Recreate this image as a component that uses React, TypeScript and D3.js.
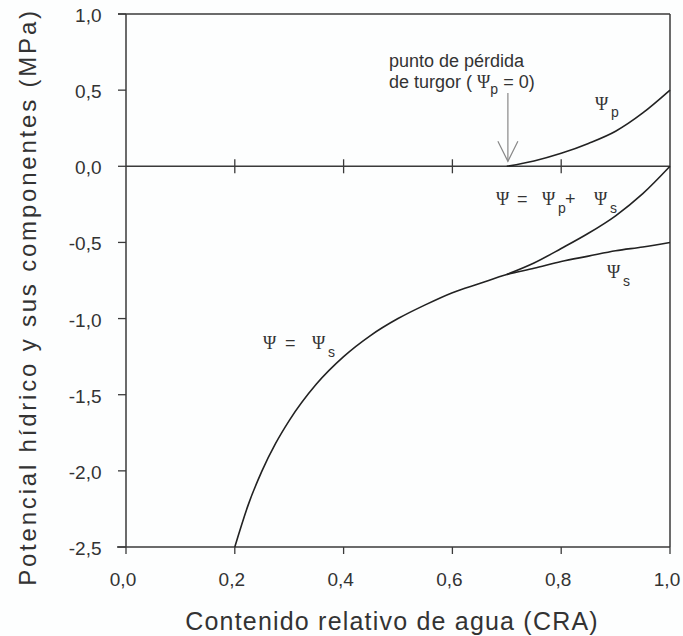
import React from "react";
import * as d3 from "d3";

const xTicks = [0, 0.2, 0.4, 0.6, 0.8, 1.0];
const yTicks = [1.0, 0.5, 0.0, -0.5, -1.0, -1.5, -2.0, -2.5];

// Osmotic potential (Ψs) vs relative water content
const psiSX = [0.2, 0.225, 0.25, 0.275, 0.3, 0.35, 0.4, 0.45, 0.5, 0.55, 0.6, 0.65, 0.7, 0.75, 0.8, 0.85, 0.9, 0.95, 1.0];
const psiSY = [-2.5, -2.22, -2.0, -1.82, -1.67, -1.43, -1.25, -1.11, -1.0, -0.91, -0.83, -0.77, -0.71, -0.67, -0.625, -0.59, -0.555, -0.53, -0.5];

// Turgor potential (Ψp)
const psiPX = [0.7, 0.75, 0.8, 0.85, 0.9, 0.95, 1.0];
const psiPY = [0, 0.035, 0.085, 0.15, 0.23, 0.35, 0.5];

// Total water potential Ψ = Ψp + Ψs above turgor loss point
const psiTX = [0.7, 0.75, 0.8, 0.85, 0.9, 0.95, 1.0];
const psiTY = [-0.71, -0.635, -0.54, -0.44, -0.325, -0.18, 0];

const turgorLossX = 0.702;

const fmt = (v: number) => d3.format(".1f")(v).replace(".", ",").replace("−", "-");

export default function App() {
  const W = 683, H = 636;
  const x = d3.scaleLinear().domain([0, 1]).range([126, 670]);
  const y = d3.scaleLinear().domain([-2.5, 1]).range([547, 14]);
  const line = d3
    .line<[number, number]>()
    .x((d) => x(d[0]))
    .y((d) => y(d[1]))
    .curve(d3.curveMonotoneX);
  const zip = (a: number[], b: number[]) => a.map((v, i) => [v, b[i]] as [number, number]);

  const axisColor = "#3a3a3a";
  const txt = "#333";
  const sans = "Liberation Sans, Arial, sans-serif";
  const serif = "Liberation Serif, Times New Roman, serif";
  const psiSize = 18;
  const subSize = 14;

  const ax = x(turgorLossX);
  const arrowTop = 93;
  const arrowTip = y(0) - 5;

  return (
    <svg width={W} height={H} style={{ position: "absolute", left: 0, top: 0 }} fontFamily={sans}>
      <rect width={W} height={H} fill="#fdfefe" />
      {/* frame */}
      <line x1={118} x2={x(1)} y1={y(1)} y2={y(1)} stroke={axisColor} strokeWidth={1.5} />
      <line x1={x(1)} x2={x(1)} y1={y(1)} y2={y(-2.5)} stroke={axisColor} strokeWidth={1.5} />
      <line x1={x(0)} x2={x(0)} y1={y(1)} y2={y(-2.5)} stroke={axisColor} strokeWidth={1.5} />
      <line x1={117} x2={x(1)} y1={y(-2.5)} y2={y(-2.5)} stroke={axisColor} strokeWidth={1.5} />
      {/* zero line */}
      <line x1={x(0)} x2={x(1)} y1={y(0)} y2={y(0)} stroke={axisColor} strokeWidth={1.5} />
      {xTicks.slice(1, -1).map((t) => (
        <line key={"z" + t} x1={x(t)} x2={x(t)} y1={y(0) - 7} y2={y(0) + 7} stroke={axisColor} strokeWidth={1.3} />
      ))}
      {/* y ticks */}
      {yTicks.map((t) => (
        <g key={"y" + t}>
          <line x1={118} x2={x(0)} y1={y(t)} y2={y(t)} stroke={axisColor} strokeWidth={1.3} />
          <text x={101.5} y={y(t) + 8} textAnchor="end" fontSize={19} fill={txt}>
            {fmt(t)}
          </text>
        </g>
      ))}
      {/* x ticks */}
      {xTicks.map((t) => (
        <g key={"x" + t}>
          <line x1={x(t)} x2={x(t)} y1={y(-2.5)} y2={y(-2.5) + 7} stroke={axisColor} strokeWidth={1.3} />
          <text x={x(t) - 3} y={586} textAnchor="middle" fontSize={19} fill={txt}>
            {fmt(t)}
          </text>
        </g>
      ))}
      {/* axis titles */}
      <text x={392} y={630} textAnchor="middle" fontSize={25} letterSpacing={1.2} fill={txt}>
        Contenido relativo de agua (CRA)
      </text>
      <text
        transform={`translate(36,297) rotate(-90)`}
        textAnchor="middle"
        fontSize={24}
        letterSpacing={2.8}
        fill={txt}
      >
        Potencial hídrico y sus componentes (MPa)
      </text>

      {/* curves */}
      <path d={line(zip(psiSX, psiSY)) || ""} fill="none" stroke="#222" strokeWidth={1.6} />
      <path d={line(zip(psiTX, psiTY)) || ""} fill="none" stroke="#222" strokeWidth={1.6} />
      <path d={line(zip(psiPX, psiPY)) || ""} fill="none" stroke="#222" strokeWidth={1.6} />

      {/* arrow */}
      <line x1={ax} x2={ax} y1={arrowTop} y2={arrowTip} stroke="#888" strokeWidth={1.2} />
      <polyline
        points={`${ax - 10},${arrowTip - 20} ${ax},${arrowTip} ${ax + 10},${arrowTip - 20}`}
        fill="none"
        stroke="#888"
        strokeWidth={1.2}
      />
      <text x={389} y={67} fontSize={18} fill={txt}>punto de pérdida</text>
      <text x={389} y={88} fontSize={18} fill={txt} xmlSpace="preserve">
        <tspan>{"de turgor ( "}</tspan>
        <tspan fontFamily={serif}>Ψ</tspan>
        <tspan fontSize={subSize} dy={6}>p</tspan>
        <tspan dy={-6}>{" = 0)"}</tspan>
      </text>

      {/* Ψp */}
      <text x={595} y={110} fontFamily={serif} fontSize={psiSize} fill={txt}>Ψ</text>
      <text x={611} y={117} fontSize={subSize} fill={txt}>p</text>

      {/* Ψ = Ψp + Ψs */}
      <text x={496} y={205} fontFamily={serif} fontSize={psiSize} fill={txt}>Ψ</text>
      <text x={517} y={205} fontSize={18} fill={txt}>=</text>
      <text x={542} y={205} fontFamily={serif} fontSize={psiSize} fill={txt}>Ψ</text>
      <text x={558} y={213} fontSize={subSize} fill={txt}>p</text>
      <text x={565} y={205} fontSize={18} fill={txt}>+</text>
      <text x={594} y={205} fontFamily={serif} fontSize={psiSize} fill={txt}>Ψ</text>
      <text x={610} y={213} fontSize={subSize} fill={txt}>s</text>

      {/* Ψs */}
      <text x={607} y={278} fontFamily={serif} fontSize={psiSize} fill={txt}>Ψ</text>
      <text x={623} y={286} fontSize={subSize} fill={txt}>s</text>

      {/* Ψ = Ψs */}
      <text x={263} y={349} fontFamily={serif} fontSize={psiSize} fill={txt}>Ψ</text>
      <text x={285} y={349} fontSize={18} fill={txt}>=</text>
      <text x={312} y={349} fontFamily={serif} fontSize={psiSize} fill={txt}>Ψ</text>
      <text x={328} y={357} fontSize={subSize} fill={txt}>s</text>
    </svg>
  );
}
